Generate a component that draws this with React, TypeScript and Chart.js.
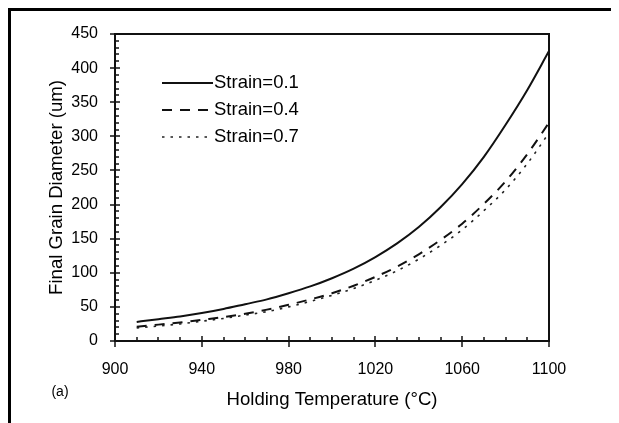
import React, { useEffect, useRef } from 'react';
import { Chart, registerables } from 'chart.js';

Chart.register(...registerables);

// ---- data ----
const temperatures = [910, 920, 930, 940, 950, 960, 970, 980, 990, 1000, 1010, 1020, 1030, 1040, 1050, 1060, 1070, 1080, 1090, 1100];
const strain01 = [28, 32, 36, 41, 47, 54, 61, 70, 80, 92, 106, 123, 143, 167, 196, 230, 270, 317, 368, 425];
const strain04 = [21, 24, 27, 31, 35, 40, 46, 53, 61, 70, 81, 94, 109, 127, 148, 172, 201, 234, 274, 320];
const strain07 = [19, 22, 25, 29, 33, 38, 43, 50, 58, 67, 77, 89, 103, 120, 140, 163, 191, 222, 260, 305];
const seriesLabels = ['Strain=0.1', 'Strain=0.4', 'Strain=0.7'];
const xTickLabels = [900, 940, 980, 1020, 1060, 1100];
const yTickLabels = [0, 50, 100, 150, 200, 250, 300, 350, 400, 450];
const xTitle = 'Holding Temperature (\u00B0C)';
const yTitle = 'Final Grain Diameter (um)';
const panelLabel = '(a)';

const FONT = "'Liberation Sans', Arial, sans-serif";

const toPoints = (vals: number[]) => vals.map((y, i) => ({ x: temperatures[i], y }));

const decorPlugin = {
  id: 'decor',
  afterDraw(chart: any) {
    const { ctx, chartArea: a, scales } = chart;
    ctx.save();
    ctx.strokeStyle = '#111';
    ctx.setLineDash([]);
    // ticks on x axis
    const xs = scales.x;
    ctx.lineWidth = 1.5;
    xs.ticks.forEach((t: any) => {
      const px = Math.round(xs.getPixelForValue(t.value));
      const major = xTickLabels.includes(t.value);
      ctx.beginPath();
      ctx.moveTo(px, a.bottom + (major ? 6 : 0));
      ctx.lineTo(px, a.bottom - (major ? 5 : 4));
      ctx.stroke();
    });
    // ticks on y axis
    const ys = scales.y;
    ys.ticks.forEach((t: any) => {
      const py = Math.round(ys.getPixelForValue(t.value));
      const major = yTickLabels.includes(t.value);
      ctx.beginPath();
      ctx.moveTo(a.left - (major ? 5 : 0), py);
      ctx.lineTo(a.left + (major ? 5 : 4), py);
      ctx.stroke();
    });
    // frame
    ctx.lineWidth = 2;
    ctx.strokeRect(a.left, a.top, a.right - a.left, a.bottom - a.top);

    // legend inside plot
    ctx.font = `18.5px ${FONT}`;
    ctx.textBaseline = 'middle';
    ctx.textAlign = 'left';
    ctx.fillStyle = '#000';
    chart.data.datasets.forEach((ds: any, i: number) => {
      const y = a.top + 49 + i * 27;
      const x0 = a.left + 47;
      const x1 = x0 + 51;
      ctx.beginPath();
      ctx.strokeStyle = ds.borderColor;
      ctx.lineWidth = ds.borderWidth;
      ctx.setLineDash(ds.borderDash || []);
      ctx.moveTo(x0, y);
      ctx.lineTo(x1, y);
      ctx.stroke();
      ctx.setLineDash([]);
      ctx.fillText(ds.label, x1 + 1, y);
    });

    // panel label
    ctx.font = `14px ${FONT}`;
    ctx.textAlign = 'center';
    ctx.fillText(panelLabel, 49, 381);
    ctx.restore();
  },
};

export default function App() {
  const ref = useRef<HTMLCanvasElement | null>(null);

  useEffect(() => {
    if (!ref.current) return;
    const chart = new Chart(ref.current, {
      type: 'line',
      data: {
        datasets: [
          { label: seriesLabels[0], data: toPoints(strain01), borderColor: '#111', borderWidth: 2, borderDash: [], pointRadius: 0, fill: false, cubicInterpolationMode: 'monotone' },
          { label: seriesLabels[1], data: toPoints(strain04), borderColor: '#111', borderWidth: 2, borderDash: [10, 8], pointRadius: 0, fill: false, cubicInterpolationMode: 'monotone' },
          { label: seriesLabels[2], data: toPoints(strain07), borderColor: '#222', borderWidth: 1.6, borderDash: [2.5, 6], pointRadius: 0, fill: false, cubicInterpolationMode: 'monotone' },
        ],
      },
      options: {
        responsive: false,
        animation: false,
        events: [],
        layout: { padding: { top: 23, right: 70, left: 0, bottom: 0 } },
        plugins: { legend: { display: false }, tooltip: { enabled: false } },
        scales: {
          x: {
            type: 'linear',
            min: 900,
            max: 1100,
            grid: { display: false },
            border: { display: false },
            afterFit: (s: any) => { s.height = 82; },
            ticks: {
              stepSize: 10,
              autoSkip: false,
              maxRotation: 0,
              padding: 11,
              color: '#000',
              font: { family: FONT, size: 16 },
              callback: (v: any) => (xTickLabels.includes(Number(v)) ? String(v) : ''),
            },
            title: {
              display: true,
              text: xTitle,
              color: '#000',
              font: { family: FONT, size: 18.6 },
              padding: { top: 0, bottom: 12 },
            },
          },
          y: {
            type: 'linear',
            min: 0,
            max: 450,
            grid: { display: false },
            border: { display: false },
            afterFit: (s: any) => { s.width = 104; },
            ticks: {
              stepSize: 10,
              autoSkip: false,
              padding: 9,
              color: '#000',
              font: { family: FONT, size: 16 },
              callback: (v: any) => (yTickLabels.includes(Number(v)) ? String(v) : ''),
            },
            title: {
              display: true,
              text: yTitle,
              color: '#000',
              font: { family: FONT, size: 18.6 },
              padding: { top: 35, bottom: 0 },
            },
          },
        },
      },
      plugins: [decorPlugin],
    });
    return () => chart.destroy();
  }, []);

  return (
    <div style={{ width: 608, height: 412, borderTop: '3px solid #000', borderLeft: '3px solid #000', background: '#fff' }}>
      <canvas ref={ref} width={608} height={412} style={{ display: 'block' }} />
    </div>
  );
}
